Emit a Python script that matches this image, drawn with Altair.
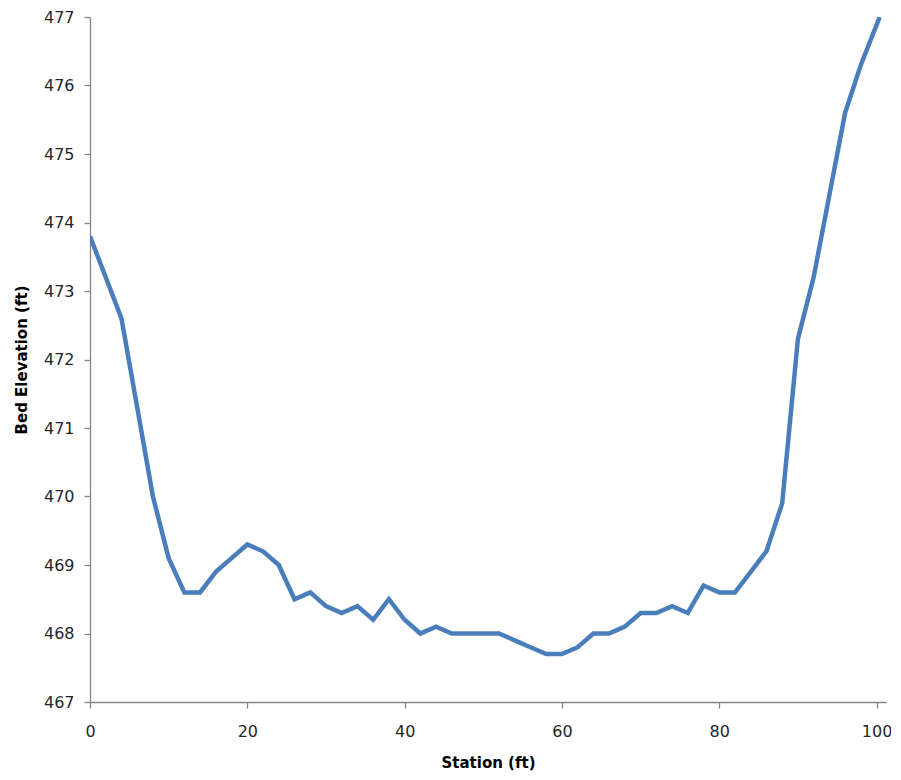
import altair as alt
import pandas as pd

station = [0, 2, 4, 6, 8, 10, 12, 14, 16, 18, 20, 22, 24, 26, 28, 30, 32, 34, 36, 38,
           40, 42, 44, 46, 48, 50, 52, 54, 56, 58, 60, 62, 64, 66, 68, 70, 72, 74, 76, 78,
           80, 82, 84, 86, 88, 90, 92, 94, 96, 98, 100.4]
elevation = [473.8, 473.2, 472.6, 471.3, 470.0, 469.1, 468.6, 468.6, 468.9, 469.1,
             469.3, 469.2, 469.0, 468.5, 468.6, 468.4, 468.3, 468.4, 468.2, 468.5,
             468.2, 468.0, 468.1, 468.0, 468.0, 468.0, 468.0, 467.9, 467.8, 467.7,
             467.7, 467.8, 468.0, 468.0, 468.1, 468.3, 468.3, 468.4, 468.3, 468.7,
             468.6, 468.6, 468.9, 469.2, 469.9, 472.3, 473.2, 474.4, 475.6, 476.3, 477.0]
x_ticks = [0, 20, 40, 60, 80, 100]
y_ticks = [467, 468, 469, 470, 471, 472, 473, 474, 475, 476, 477]

df = pd.DataFrame({"Station": station, "Elevation": elevation})

axis_common = dict(
    domainColor="#868686", tickColor="#868686", domainWidth=1.3, tickWidth=1.3,
    grid=False, labelFont="DejaVu Sans", labelFontSize=16, labelColor="#262626",
    titleFont="DejaVu Sans", titleFontSize=15, titleFontWeight="bold", titleColor="#000000",
    tickSize=6, labelFlush=False, labelOverlap=False,
)

chart = alt.Chart(df).mark_line(color="#4A7EBB", strokeWidth=4.5, clip=True).encode(
    x=alt.X("Station:Q", title="Station (ft)",
            scale=alt.Scale(domain=[0, 101.2], nice=False, zero=False),
            axis=alt.Axis(values=x_ticks, labelPadding=15, titlePadding=16, **axis_common)),
    y=alt.Y("Elevation:Q", title="Bed Elevation (ft)",
            scale=alt.Scale(domain=[467, 477], nice=False, zero=False),
            axis=alt.Axis(values=y_ticks, labelPadding=10, titlePadding=14, **axis_common)),
).properties(
    width=796, height=685,
    autosize=alt.AutoSizeParams(type="none"),
    padding={"left": 82, "top": 9, "right": 5, "bottom": 69},
).configure_view(stroke=None)

chart.save("out.html", embed_options={"renderer": "svg", "actions": False})
